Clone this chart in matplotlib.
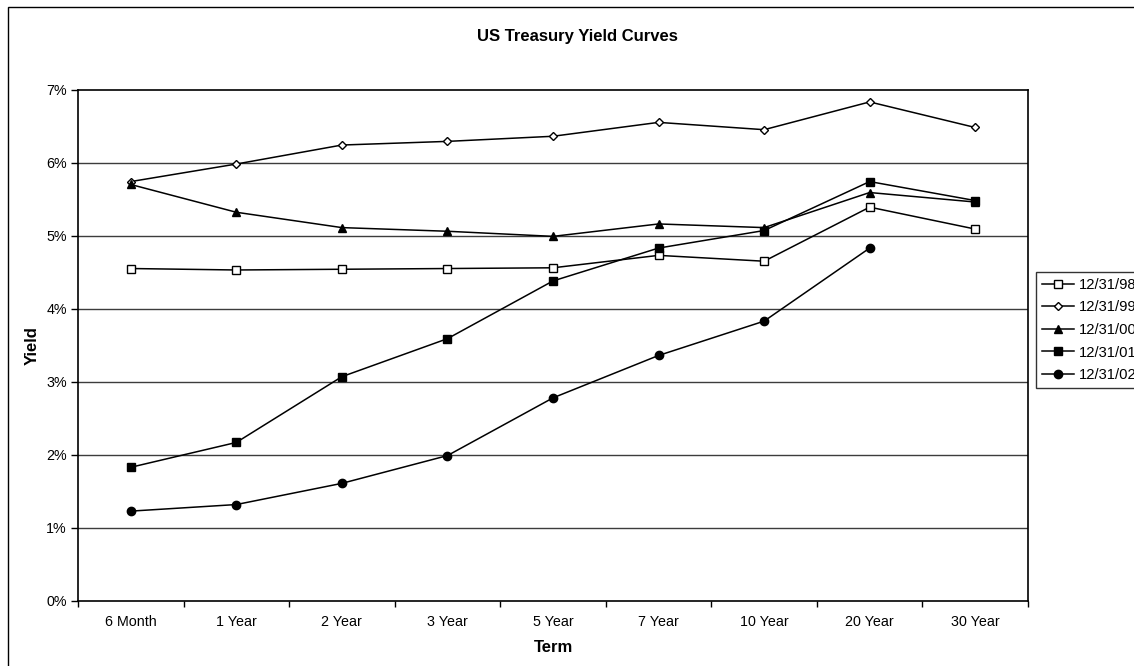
import matplotlib
matplotlib.use("Agg")
import matplotlib.pyplot as plt
from matplotlib.patches import Rectangle
from matplotlib.ticker import FixedLocator, FuncFormatter

plt.rcParams['font.family'] = ['Liberation Sans', 'DejaVu Sans']

terms = ["6 Month", "1 Year", "2 Year", "3 Year", "5 Year",
         "7 Year", "10 Year", "20 Year", "30 Year"]

y98 = [4.55, 4.53, 4.54, 4.55, 4.56, 4.73, 4.65, 5.39, 5.09]
y99 = [5.74, 5.98, 6.24, 6.29, 6.36, 6.55, 6.45, 6.83, 6.48]
y00 = [5.70, 5.32, 5.11, 5.06, 4.99, 5.16, 5.11, 5.59, 5.46]
y01 = [1.83, 2.17, 3.07, 3.59, 4.38, 4.83, 5.07, 5.74, 5.48]
y02 = [1.23, 1.32, 1.61, 1.99, 2.78, 3.36, 3.83, 4.83]

series = [
    ("12/31/98", y98, dict(marker='s', mfc='white', ms=6)),
    ("12/31/99", y99, dict(marker='D', mfc='white', ms=4.5)),
    ("12/31/00", y00, dict(marker='^', mfc='black', ms=6)),
    ("12/31/01", y01, dict(marker='s', mfc='black', ms=6)),
    ("12/31/02", y02, dict(marker='o', mfc='black', ms=6)),
]

W, H = 1134, 666
fig = plt.figure(figsize=(W / 100, H / 100), dpi=100)
fig.patch.set_facecolor('white')

# outer chart frame
fig.patches.append(Rectangle((8 / W, -0.05), 1.2, 1 - 7 / H + 0.05,
                             transform=fig.transFigure, fill=False,
                             edgecolor='black', linewidth=1.0))

ax = fig.add_axes([78 / W, (H - 601) / H, (1028 - 78) / W, (601 - 89.5) / H])

for label, vals, style in series:
    ax.plot(range(len(vals)), vals, color='black', linewidth=1.1,
            mec='black', mew=1.0, label=label, **style)

ax.set_xlim(-0.5, len(terms) - 0.5)
ax.set_ylim(0, 7)

# category boundaries carry the tick marks, centres carry the labels
ax.xaxis.set_major_locator(FixedLocator([i - 0.5 for i in range(len(terms) + 1)]))
ax.xaxis.set_major_formatter(FuncFormatter(lambda v, p: ""))
ax.xaxis.set_minor_locator(FixedLocator(list(range(len(terms)))))
ax.set_xticklabels(terms, minor=True)
ax.tick_params(axis='x', which='major', direction='out', length=4, width=1, color='black')
ax.tick_params(axis='x', which='minor', length=0, pad=10, labelsize=10.3)

ax.set_yticks(range(0, 8))
ax.yaxis.set_major_formatter(FuncFormatter(lambda v, p: f"{int(v)}%"))
ax.tick_params(axis='y', direction='out', length=5, width=1, color='black',
               labelsize=10.3, pad=3)

for v in range(1, 7):
    ax.axhline(v, color='#3c3c3c', linewidth=1.0, zorder=0.5)

for s in ax.spines.values():
    s.set_color('black')
    s.set_linewidth(1.2)

ax.set_xlabel("Term", fontsize=12, fontweight='bold', labelpad=8)
ax.set_ylabel("Yield", fontsize=12, fontweight='bold', labelpad=5)

fig.text(577 / W, 1 - 36 / H, "US Treasury Yield Curves", ha='center', va='center',
         fontsize=12, fontweight='bold')

leg = fig.legend(loc='upper left', bbox_to_anchor=(1036 / W, 1 - 272 / H),
                 fontsize=10.6, frameon=True, fancybox=False, handlelength=2.2,
                 handletextpad=0.3, labelspacing=0.58, borderpad=0.4,
                 borderaxespad=0)
leg.get_frame().set_edgecolor('black')
leg.get_frame().set_linewidth(1.0)

fig.savefig("out.png", dpi=100)
